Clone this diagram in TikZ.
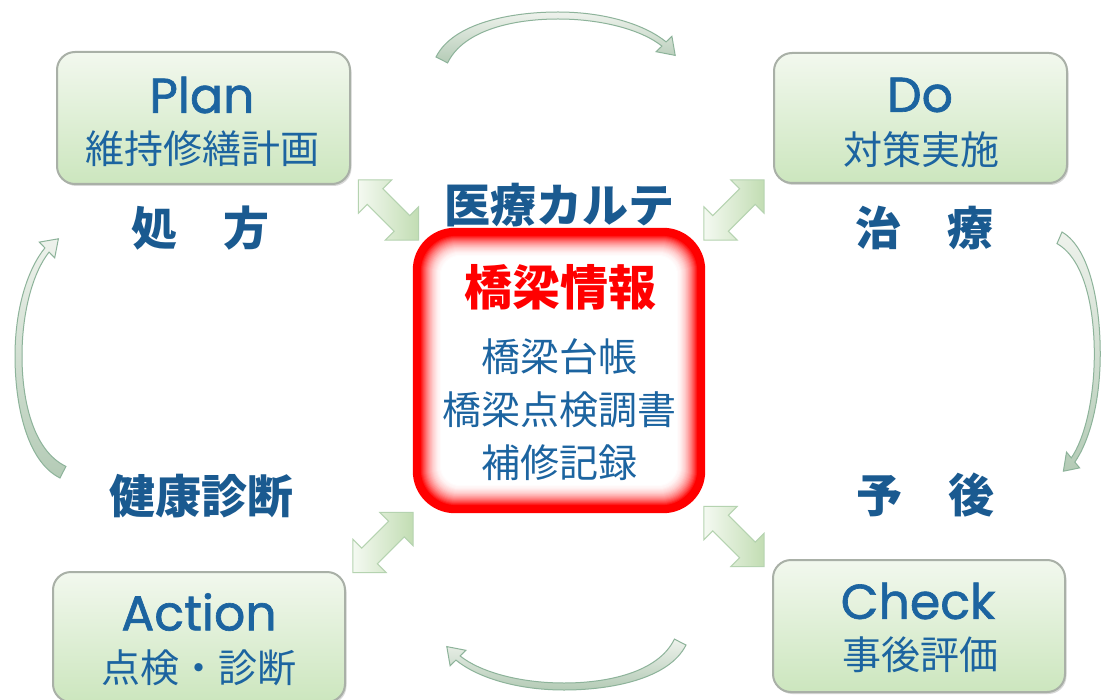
\documentclass[tikz,border=0pt]{standalone}
\usepackage{fontspec}
\usetikzlibrary{calc,shadows}
\newfontfamily\cjk{Noto Sans CJK JP}
\newfontfamily\lat[UprightFeatures={FakeBold=1.3}]{Poppins}
\definecolor{btntop}{HTML}{F2F8EE}
\definecolor{btnbot}{HTML}{CCE6BE}
\definecolor{btnedge}{HTML}{A9B0A7}
\definecolor{txtblue}{HTML}{1C64A0}
\definecolor{lblblue}{HTML}{1A5A90}
\definecolor{dblfillA}{HTML}{F4F9F1}
\definecolor{dblfillB}{HTML}{C2DDB3}
\definecolor{dbledge}{HTML}{B5D3B0}
\definecolor{cycA}{HTML}{EEF2EC}
\definecolor{cycB}{HTML}{B4CBB6}
\definecolor{cycedge}{HTML}{8DB39A}
\definecolor{infored}{HTML}{FF0000}
\begin{document}
\begin{tikzpicture}[x=1pt,y=-1pt,
 btn/.style={rounded corners=18pt, draw=btnedge, line width=2pt, top color=btntop, bottom color=btnbot, inner sep=0pt,
   drop shadow={shadow xshift=1.5pt,shadow yshift=-2pt,opacity=0.3}},
 ttl/.style={text=txtblue, font=\lat\fontsize{49}{49}\selectfont, inner sep=0pt},
 sub/.style={text=txtblue, font=\cjk\fontsize{39}{39}\selectfont, inner sep=0pt},
 lbl/.style={text=lblblue, font=\cjk\bfseries\fontsize{46}{46}\selectfont, inner sep=0pt},
 inf/.style={text=txtblue, font=\cjk\fontsize{39}{39}\selectfont, inner sep=0pt},
 dblarrow/.style={left color=dblfillA, right color=dblfillB, draw=dbledge, line width=1pt, line join=miter},
 cycarrow/.style={top color=cycA, bottom color=cycB, draw=cycedge, line width=1pt, line join=miter},
 dbl/.pic={\path[dblarrow] (-42.5,0) -- (-19,-23.5) -- (-19,-11) -- (19,-11) -- (19,-23.5) -- (42.5,0)
     -- (19,23.5) -- (19,11) -- (-19,11) -- (-19,23.5) -- cycle;},
 cyc/.pic={\begin{scope}[yscale=#1]
   \path[cycarrow] (-120,0) .. controls (-103,-34) and (-45,-45) .. (2,-45)
     .. controls (48,-45) and (88,-33) .. (110.1,-15.1) -- (115.9,-20.7) -- (119.2,-1.6)
     -- (100.1,-5.3) -- (105.9,-10.9) .. controls (86,-27) and (46,-38) .. (2,-38)
     .. controls (-40,-38) and (-92,-28) .. (-108.4,5.9) -- cycle;
   \end{scope}}
]
\useasboundingbox (0,0) rectangle (1102,700);
\fill[white] (0,0) rectangle (1102,700);

% cycle arrows
\pic (arrT) at (556,57) {cyc=1};
\pic[rotate=180] (arrB) at (566,645) {cyc=1};
\pic[rotate=-90] (arrR) at (1062,352) {cyc=0.85};
\pic[rotate=90] (arrL) at (60,358) {cyc=1};

% double arrows
\pic[rotate=-45] (dTL) at (388.5,210) {dbl};
\pic[rotate=45] (dBL) at (383,542.5) {dbl};
\pic[rotate=45] (dTR) at (734,210) {dbl};
\pic[rotate=-45] (dBR) at (734,536.5) {dbl};

% buttons
\node[btn, minimum width=293pt, minimum height=132pt] (plan) at (203.5,118) {};
\node[btn, minimum width=293pt, minimum height=130pt] (do) at (920.5,118) {};
\node[btn, minimum width=292pt, minimum height=132pt] (check) at (919,626) {};
\node[btn, minimum width=292pt, minimum height=130pt] (action) at (199,637) {};

\node[ttl] (planT) at (202,95) {Plan};
\node[sub] (planS) at (202,149) {維持修繕計画};
\node[ttl] (doT) at (920,95) {Do};
\node[sub] (doS) at (921,150) {対策実施};
\node[ttl] (checkT) at (918,601) {Check};
\node[sub] (checkS) at (920,655) {事後評価};
\node[ttl] (actionT) at (199,612) {Action};
\node[sub] (actionS) at (199,668) {点検・診断};

% labels
\node[lbl] (shoho) at (200,228) {処　方};
\node[lbl] (karte) at (559,205) {医療カルテ};
\node[lbl] (chiryo) at (924,228) {治　療};
\node[lbl] (kenko) at (201,496) {健康診断};
\node[lbl] (yogo) at (925,495) {予　後};

% central information box
\node[minimum width=292pt, minimum height=285pt, inner sep=0pt] (info) at (559,370.5) {};
\foreach \k in {0,...,30} {
  \pgfmathtruncatemacro\p{\k<7 ? 100 : 100*((30-\k)/23)^2}
  \pgfmathsetmacro\r{max(8,42-0.8*\k)}
  \fill[infored!\p!white, rounded corners=\r pt] ($(info.north west)+(\k,\k)$) rectangle ($(info.south east)-(\k,\k)$);
}
\node[text=infored, font=\cjk\bfseries\fontsize{48}{48}\selectfont, inner sep=0pt] (infoT) at (560,287) {橋梁情報};
\node[inf] (i1) at (559,357) {橋梁台帳};
\node[inf] (i2) at (559,410) {橋梁点検調書};
\node[inf] (i3) at (559,463) {補修記録};
\end{tikzpicture}
\end{document}
